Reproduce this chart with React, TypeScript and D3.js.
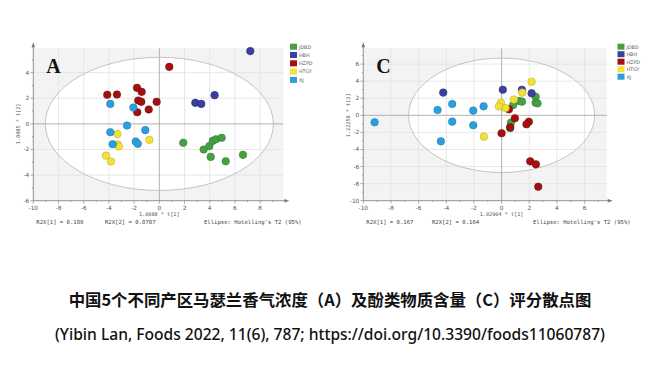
import React from "react";
import * as d3 from "d3";

const groups = ["JDBD", "HBH", "HZPD", "HTGY", "XJ"];
const groupColors = ["#45a043", "#3b3f9f", "#a3100f", "#f2e235", "#2a9fdc"];
const groupStrokes = ["#2f7a2d", "#272a75", "#6e0a0a", "#b8a820", "#1b78a8"];

// Panel A scores [t1, t2]
const aJDBD: [number, number][] = [[1.9, -1.48], [3.52, -2.0], [3.97, -1.74], [4.24, -1.33], [4.5, -1.2], [4.95, -1.09], [4.08, -2.58], [5.27, -2.92], [6.64, -2.42]];
const aHBH: [number, number][] = [[7.22, 5.68], [4.39, 2.24], [2.86, 1.64], [3.33, 1.56]];
const aHZPD: [number, number][] = [[0.79, 4.45], [-4.13, 2.27], [-3.36, 2.29], [-1.77, 2.81], [-1.4, 2.5], [-1.67, 1.82], [-1.43, 1.72], [-0.21, 1.72], [-0.84, 1.12], [-1.75, 0.91]];
const aHTGY: [number, number][] = [[-3.33, -0.8], [-0.79, -1.25], [-3.3, -1.62], [-3.2, -1.77], [-4.23, -2.48], [-3.83, -2.94]];
const aXJ: [number, number][] = [[-3.89, 1.56], [-2.06, 1.27], [-2.56, -0.13], [-1.11, -0.49], [-3.89, -0.65], [-3.7, -1.59], [-1.87, -1.38], [-1.71, -1.56]];

// Panel C scores [t1, t2]
const cJDBD: [number, number][] = [[2.46, 2.18], [1.27, 1.67], [1.47, 1.6], [2.46, 1.48], [2.6, 1.4], [0.84, 1.2], [0.67, -0.86], [0.62, -1.5]];
const cHBH: [number, number][] = [[-4.22, 2.66], [0.09, 3.0], [1.47, 3.0], [2.17, 2.58]];
const cHZPD: [number, number][] = [[0.53, 0.7], [0.96, -0.35], [1.97, -0.75], [1.8, -1.05], [0.62, -1.4], [0.0, -2.1], [2.07, -5.39], [2.48, -5.74], [2.65, -8.36]];
const cHTGY: [number, number][] = [[2.17, 3.94], [1.49, 2.66], [0.89, 1.85], [-0.05, 1.48], [-0.2, 1.05], [0.29, 0.85], [-1.28, -2.5]];
const cXJ: [number, number][] = [[-9.18, -0.82], [-4.39, -3.05], [-4.63, 0.63], [-3.57, 1.33], [-3.57, -0.74], [-2.05, 0.55], [-2.05, -1.17], [-1.3, 1.05]];

const aXTicks = [-10, -8, -6, -4, -2, 0, 2, 4, 6, 8];
const aYTicks = [-6, -4, -2, 0, 2, 4];
const cXTicks = [-10, -8, -6, -4, -2, 0, 2, 4, 6];
const cYTicks = [-10, -8, -6, -4, -2, 0, 2, 4, 6];

const title = "中国5个不同产区马瑟兰香气浓度（A）及酚类物质含量（C）评分散点图";
const citation = "(Yibin Lan, Foods 2022, 11(6), 787; https://doi.org/10.3390/foods11060787)";

type PanelProps = {
  letter: string;
  series: [number, number][][];
  xDomain: [number, number];
  yDomain: [number, number];
  xRange: [number, number];
  yRange: [number, number];
  xTicks: number[];
  yTicks: number[];
  ellipse: [number, number];
  xLabel: string;
  yLabel: string;
  r2x1: string;
  r2x2: string;
  r2x2X: number;
  ellX: number;
  legendX: number;
  legendY: number;
  legendStep: number;
};

function Panel(p: PanelProps) {
  const x = d3.scaleLinear().domain(p.xDomain).range(p.xRange);
  const y = d3.scaleLinear().domain(p.yDomain).range(p.yRange);
  const [x0, x1] = p.xRange;
  const [yb, yt] = p.yRange;
  const mono = "'DejaVu Sans Mono', monospace";
  const sans = "'DejaVu Sans', sans-serif";
  const minorX: number[] = [];
  for (let v = Math.ceil(p.xDomain[0]); v <= p.xDomain[1]; v++) minorX.push(v);
  const minorY: number[] = [];
  for (let v = Math.ceil(p.yDomain[0]); v <= p.yDomain[1]; v++) minorY.push(v);
  const cx = x(0), cy = y(0);
  const rx = x(p.ellipse[0]) - x(0);
  const ry = y(0) - y(p.ellipse[1]);
  return (
    <g>
      <rect x={x0} y={yt} width={x1 - x0} height={yb - yt} fill="#f3f3f3" />
      <ellipse cx={cx} cy={cy} rx={rx} ry={ry} fill="#ffffff" />
      {p.xTicks.filter((t) => t !== p.xDomain[0] && t !== 0).map((t) => (
        <line key={"gx" + t} x1={x(t)} x2={x(t)} y1={yb} y2={yt} stroke="#e2e2e2" strokeWidth={0.8} />
      ))}
      {p.yTicks.filter((t) => t !== p.yDomain[0] && t !== 0).map((t) => (
        <line key={"gy" + t} x1={x0} x2={x1} y1={y(t)} y2={y(t)} stroke="#e2e2e2" strokeWidth={0.8} />
      ))}
      <line x1={x(0)} x2={x(0)} y1={yb} y2={yt} stroke="#a8a8a8" strokeWidth={0.9} />
      <line x1={x0} x2={x1} y1={y(0)} y2={y(0)} stroke="#a8a8a8" strokeWidth={0.9} />
      <ellipse cx={cx} cy={cy} rx={rx} ry={ry} fill="none" stroke="#bdbdbd" strokeWidth={0.9} />
      <line x1={x0} x2={x1 + 3} y1={yb} y2={yb} stroke="#777" strokeWidth={0.8} />
      <line x1={x0} x2={x0} y1={yb} y2={yt - 3} stroke="#777" strokeWidth={0.8} />
      <path d={`M${x1 + 6},${yb} L${x1 + 1},${yb - 1.8} L${x1 + 1},${yb + 1.8} Z`} fill="#777" />
      <path d={`M${x0},${yt - 6} L${x0 - 1.8},${yt - 1} L${x0 + 1.8},${yt - 1} Z`} fill="#777" />
      {minorX.map((t) => (
        <line key={"mx" + t} x1={x(t)} x2={x(t)} y1={yb} y2={yb + (p.xTicks.includes(t) ? 3 : 1.5)} stroke="#777" strokeWidth={0.6} />
      ))}
      {minorY.map((t) => (
        <line key={"my" + t} x1={x0} x2={x0 - (p.yTicks.includes(t) ? 3 : 1.5)} y1={y(t)} y2={y(t)} stroke="#777" strokeWidth={0.6} />
      ))}
      {p.xTicks.map((t) => (
        <text key={"tx" + t} x={x(t)} y={yb + 9} fontSize={5.8} fill="#555" textAnchor="middle" fontFamily={sans}>{t}</text>
      ))}
      {p.yTicks.map((t) => (
        <text key={"ty" + t} x={x0 - 4} y={y(t) + 2} fontSize={5.8} fill="#555" textAnchor="end" fontFamily={sans}>{t}</text>
      ))}
      <text x={x(0)} y={yb + 15} fontSize={5.2} fill="#555" textAnchor="middle" fontFamily={mono}>{p.xLabel}</text>
      <text transform={`translate(${x0 - 13},${y(0)}) rotate(-90)`} fontSize={5.2} fill="#555" textAnchor="middle" fontFamily={mono}>{p.yLabel}</text>
      <text x={x0 + 3} y={yb + 23} fontSize={5.6} fill="#444" fontFamily={mono}>{p.r2x1}</text>
      <text x={p.r2x2X} y={yb + 23} fontSize={5.6} fill="#444" fontFamily={mono}>{p.r2x2}</text>
      <text x={p.ellX} y={yb + 23} fontSize={5.6} fill="#444" fontFamily={mono}>Ellipse: Hotelling's T2 (95%)</text>
      <text x={x0 + 13} y={yt + 25} fontSize={20} fontWeight="bold" fontFamily="'Liberation Serif', 'DejaVu Serif', serif" fill="#111">{p.letter}</text>
      {p.series.map((pts, gi) =>
        pts.map((d, i) => (
          <circle key={gi + "-" + i} cx={x(d[0])} cy={y(d[1])} r={3.8} fill={groupColors[gi]} stroke={groupStrokes[gi]} strokeWidth={0.5} />
        ))
      )}
      {groups.map((g, i) => (
        <g key={g}>
          <rect x={p.legendX} y={p.legendY + i * p.legendStep - 3} width={7} height={6} fill={groupColors[i]} />
          <text x={p.legendX + 9} y={p.legendY + i * p.legendStep + 1.8} fontSize={4.8} fill="#555" fontFamily={sans}>{g}</text>
        </g>
      ))}
    </g>
  );
}

export default function App() {
  return (
    <svg width={660} height={383} style={{ position: "absolute", left: 0, top: 0, background: "#fff" }}>
      <rect width={660} height={383} fill="#fff" />
      <Panel
        letter="A"
        series={[aJDBD, aHBH, aHZPD, aHTGY, aXJ]}
        xDomain={[-10, 9.84]}
        yDomain={[-6, 5.9]}
        xRange={[33.3, 283.3]}
        yRange={[200.7, 48.3]}
        xTicks={aXTicks}
        yTicks={aYTicks}
        ellipse={[9.05, 5.2]}
        xLabel="1.0088 * t[1]"
        yLabel="1.0085 * t[2]"
        r2x1="R2X[1] = 0.189"
        r2x2="R2X[2] = 0.0707"
        r2x2X={105}
        ellX={204}
        legendX={290}
        legendY={46.7}
        legendStep={8.3}
      />
      <Panel
        letter="C"
        series={[cJDBD, cHBH, cHZPD, cHTGY, cXJ]}
        xDomain={[-10, 7.6]}
        yDomain={[-10, 7.85]}
        xRange={[363.3, 606.7]}
        yRange={[200.7, 48.3]}
        xTicks={cXTicks}
        yTicks={cYTicks}
        ellipse={[6.73, 6.7]}
        xLabel="1.02904 * t[1]"
        yLabel="1.22259 * t[2]"
        r2x1="R2X[1] = 0.167"
        r2x2="R2X[2] = 0.164"
        r2x2X={432}
        ellX={533}
        legendX={617.5}
        legendY={46.7}
        legendStep={7.5}
      />
      <text x={330} y={306} textAnchor="middle" fontSize={16.4} fontWeight="bold" fontFamily="'Noto Sans CJK SC', sans-serif" fill="#111">{title}</text>
      <text x={330} y={340} textAnchor="middle" fontSize={16.5} fontWeight={500} fontFamily="'Noto Sans', 'Open Sans', sans-serif" fill="#111" textLength={550} lengthAdjust="spacingAndGlyphs">{citation}</text>
    </svg>
  );
}
